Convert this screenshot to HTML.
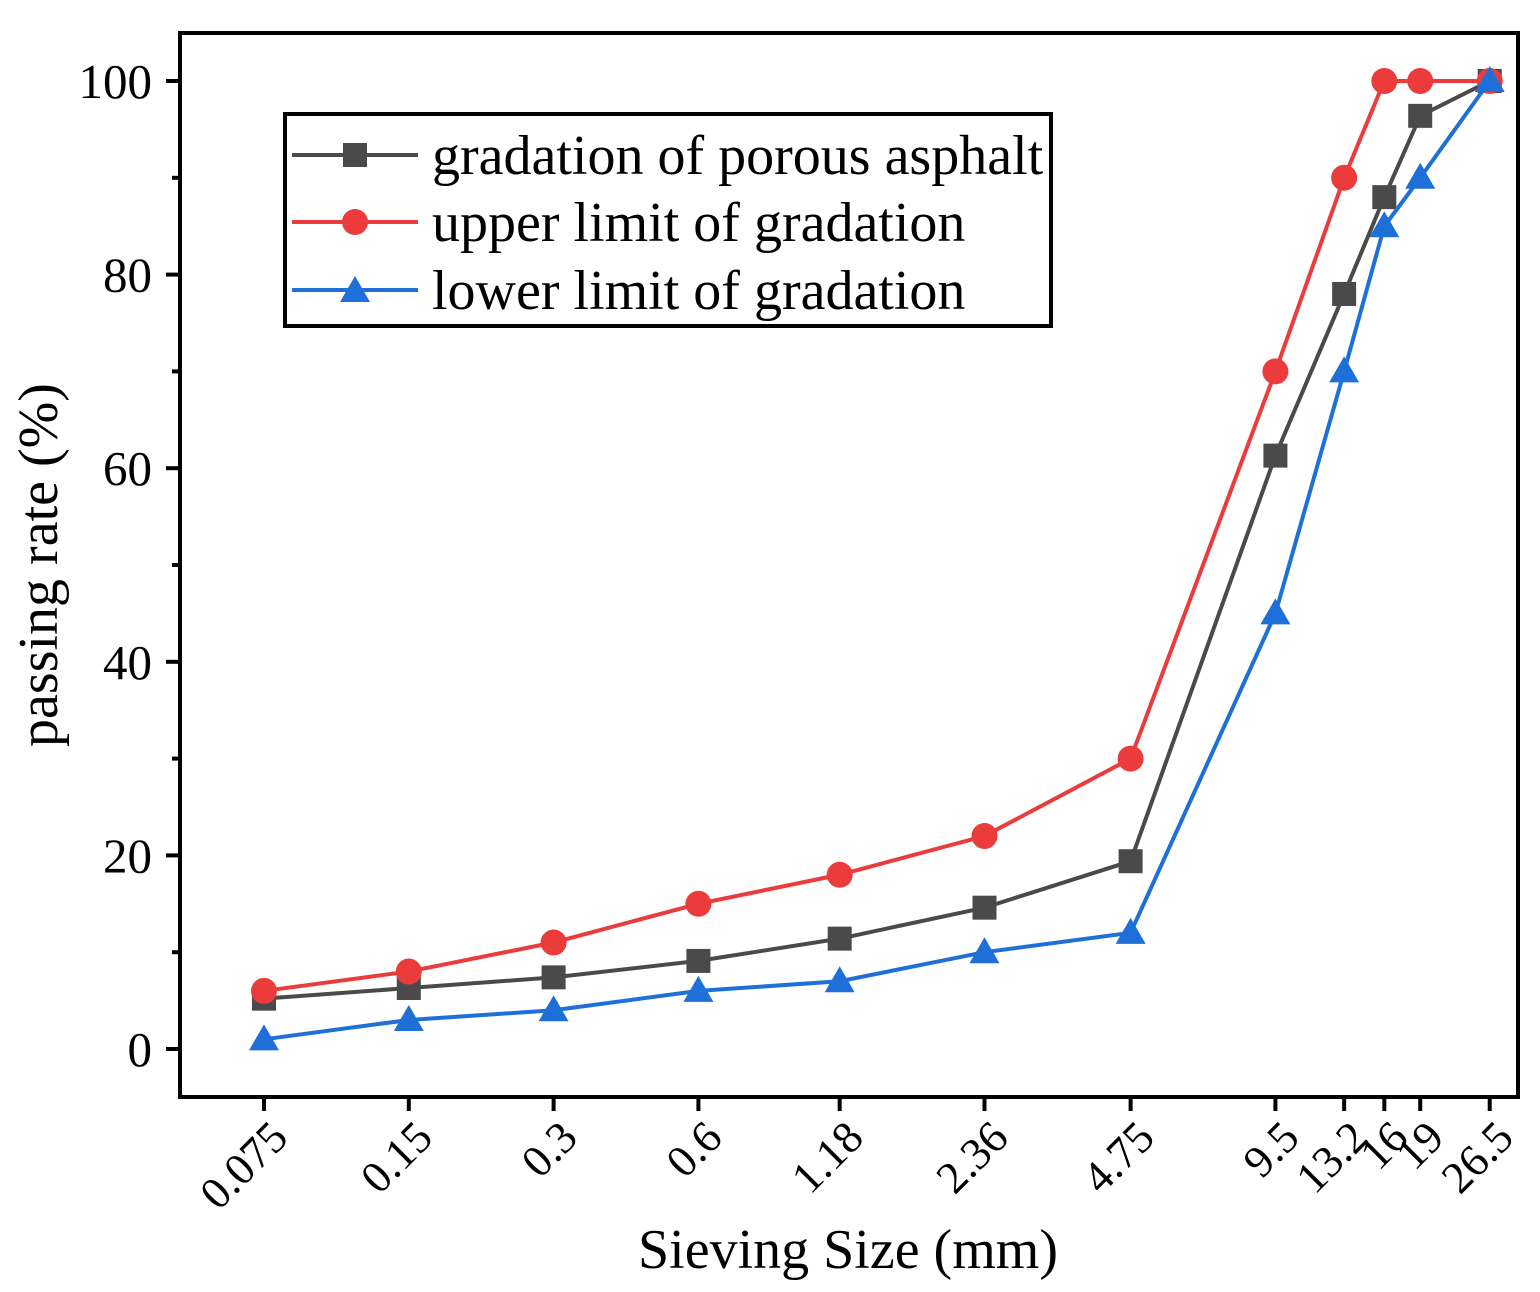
<!DOCTYPE html>
<html><head><meta charset="utf-8"><style>
html,body{margin:0;padding:0;background:#fff;}
svg{display:block;font-family:"Liberation Serif",serif;}
</style></head><body>
<svg id="chart" width="1540" height="1292" xmlns="http://www.w3.org/2000/svg">
<rect x="180" y="33" width="1338" height="1064" fill="none" stroke="#000" stroke-width="4"/>
<g id="axes"></g>
<g id="series"></g>
<text x="848" y="1268" font-size="56" text-anchor="middle">Sieving Size (mm)</text>
<text transform="translate(57,565) rotate(-90)" font-size="56" text-anchor="middle">passing rate (%)</text>
<g>
<rect x="285" y="114" width="766" height="212" fill="#fff" stroke="#000" stroke-width="4"/>
<g>
<line x1="292" y1="155" x2="418" y2="155" stroke="#4a4a4a" stroke-width="4"/>
<rect x="343" y="143" width="24" height="24" fill="#4a4a4a"/>
<text x="432" y="174" font-size="56">gradation of porous asphalt</text></g>
<g>
<line x1="292" y1="222" x2="418" y2="222" stroke="#ec3b3b" stroke-width="4"/>
<circle cx="355" cy="222" r="13" fill="#ec3b3b"/>
<text x="432" y="241" font-size="56">upper limit of gradation</text></g>
<g>
<line x1="292" y1="290" x2="418" y2="290" stroke="#1f6fd8" stroke-width="4"/>
<polygon points="355,276 370,302 340,302" fill="#1f6fd8"/>
<text x="432" y="309" font-size="56">lower limit of gradation</text></g>
</g>
</svg>
<script>
const sizes=[0.075,0.15,0.3,0.6,1.18,2.36,4.75,9.5,13.2,16,19,26.5];
const sizeLabels=["0.075","0.15","0.3","0.6","1.18","2.36","4.75","9.5","13.2","16","19","26.5"];
const porous=[5.2,6.3,7.4,9.1,11.4,14.6,19.4,61.3,78,88,96.4,100];
const upper=[6,8,11,15,18,22,30,70,90,100,100,100];
const lower=[1,3,4,6,7,10,12,45,70,85,90,100];
const yTicks=[0,20,40,60,80,100];
const NS="http://www.w3.org/2000/svg";
function xs(v){return 264+Math.log2(v/0.075)*144.8;}
function ys(v){return 1049-v*9.68;}
function mk(t,a,p){const e=document.createElementNS(NS,t);for(const k in a)e.setAttribute(k,a[k]);p.appendChild(e);return e;}
const ax=document.getElementById('axes');
yTicks.forEach(v=>{
 const l=mk('line',{x1:166,x2:180,y1:ys(v),y2:ys(v),stroke:'#000','stroke-width':4},ax);
 
 
 const t=mk('text',{x:152,y:ys(v)+17,'font-size':49,'text-anchor':'end'},ax);t.textContent=v;
 
 
 if(v<100){const m=mk('line',{x1:172,x2:180,y1:ys(v+10),y2:ys(v+10),stroke:'#000','stroke-width':4},ax);
 
 }
});
sizes.forEach((s,i)=>{
 const x=xs(s);
 const l=mk('line',{x1:x,x2:x,y1:1097,y2:1111,stroke:'#000','stroke-width':4},ax);
 
 
 const t=mk('text',{transform:`translate(${x+26},${1140}) rotate(-45)`,'font-size':45,'text-anchor':'end'},ax);t.textContent=sizeLabels[i];
 
 
});
const sg=document.getElementById('series');
function draw(vals,color,shape,name){
 const g=mk('g',{},sg);
 
 
 const pts=vals.map((v,i)=>xs(sizes[i])+','+ys(v)).join(' ');
 mk('polyline',{points:pts,fill:'none',stroke:color,'stroke-width':4},g);
 vals.forEach((v,i)=>{
  const x=xs(sizes[i]),y=ys(v);let m;
  if(shape==='sq')m=mk('rect',{x:x-12,y:y-12,width:24,height:24,fill:color},g);
  else if(shape==='c')m=mk('circle',{cx:x,cy:y,r:13,fill:color},g);
  else m=mk('polygon',{points:`${x},${y-15} ${x+15},${y+11} ${x-15},${y+11}`,fill:color},g);
  
  
 });
}
draw(porous,'#4a4a4a','sq','series-porous');
draw(upper,'#ec3b3b','c','series-upper');
draw(lower,'#1f6fd8','t','series-lower');
</script>
</body></html>
